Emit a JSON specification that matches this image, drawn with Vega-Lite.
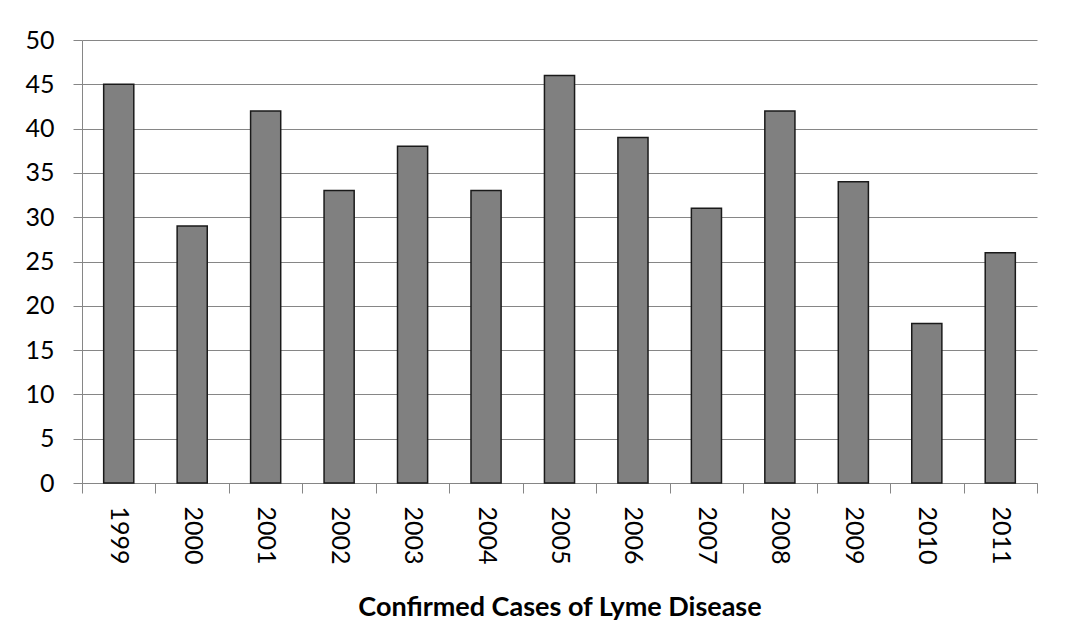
{
  "$schema": "https://vega.github.io/schema/vega-lite/v6.json",
  "autosize": "none",
  "width": 955,
  "height": 443,
  "padding": {"left": 82, "top": 40, "right": 33, "bottom": 159},
  "background": "white",
  "config": {
    "view": {"stroke": null},
    "font": "Lato"
  },
  "data": {
    "values": [
      {"year": "1999", "cases": 45},
      {"year": "2000", "cases": 29},
      {"year": "2001", "cases": 42},
      {"year": "2002", "cases": 33},
      {"year": "2003", "cases": 38},
      {"year": "2004", "cases": 33},
      {"year": "2005", "cases": 46},
      {"year": "2006", "cases": 39},
      {"year": "2007", "cases": 31},
      {"year": "2008", "cases": 42},
      {"year": "2009", "cases": 34},
      {"year": "2010", "cases": 18},
      {"year": "2011", "cases": 26}
    ]
  },
  "mark": {"type": "bar", "fill": "#808080", "stroke": "#1a1a1a", "strokeWidth": 1.5, "width": {"band": 0.41}},
  "encoding": {
    "x": {
      "field": "year",
      "type": "ordinal",
      "scale": {"paddingInner": 0, "paddingOuter": 0},
      "axis": {
        "title": "Confirmed Cases of Lyme Disease",
        "titleFont": "Lato",
        "titleFontSize": 27,
        "titleFontWeight": "bold",
        "titleColor": "#000000",
        "titlePadding": 30,
        "labelAngle": 90,
        "labelFont": "Lato",
        "labelFontSize": 25,
        "labelColor": "#000000",
        "labelPadding": 13,
        "tickBand": "extent",
        "tickSize": 10,
        "tickColor": "#868686",
        "domainColor": "#868686",
        "grid": false
      }
    },
    "y": {
      "field": "cases",
      "type": "quantitative",
      "scale": {"domain": [0, 50]},
      "axis": {
        "title": null,
        "values": [0, 5, 10, 15, 20, 25, 30, 35, 40, 45, 50],
        "labelFont": "Lato",
        "labelFontSize": 25,
        "labelColor": "#000000",
        "labelPadding": 19,
        "tickSize": 9,
        "tickColor": "#868686",
        "domainColor": "#868686",
        "gridColor": "#868686",
        "grid": true
      }
    }
  }
}
